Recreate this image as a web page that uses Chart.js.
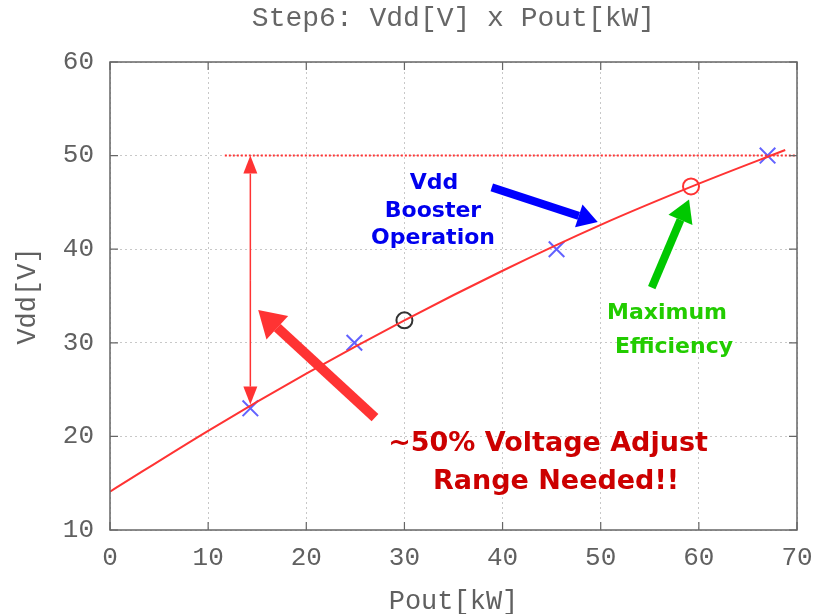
<!DOCTYPE html>
<html>
<head>
<meta charset="utf-8">
<script src="https://cdn.jsdelivr.net/npm/chart.js@4.4.1/dist/chart.umd.min.js"></script>
<style>
    html, body { margin: 0; padding: 0; background: #ffffff; }
    #wrap { width: 818px; height: 614px; }
</style>
</head>
<body>
<div id="wrap"><canvas id="vddChart" width="818" height="614"></canvas></div>
<script>
// measured operating points (Pout kW, Vdd V)
const measuredPout = [14.3, 24.9, 45.5, 67.0];
const measuredVdd = [23.0, 30.0, 40.0, 50.0];

// fitted Vdd curve
const fitPout = [0, 10, 20, 30, 40, 50, 60, 68.8];
const fitVdd = [14.1, 20.6, 26.7, 32.4, 37.7, 42.6, 47.0, 50.6];

// highlighted points
const nominalPoint = { x: 30, y: 32.4 };
const maxEffPoint = { x: 59.2, y: 46.7 };

// 50 V ceiling (dotted)
const ceilingPout = [11.7, 70];
const ceilingVdd = [50, 50];

const xTicks = [0, 10, 20, 30, 40, 50, 60, 70];
const yTicks = [10, 20, 30, 40, 50, 60];

const chartTitle = 'Step6: Vdd[V] x Pout[kW]';

function toPoints(xs, ys) {
    return xs.map(function (x, i) { return { x: x, y: ys[i] }; });
}

function drawArrow(ctx, x1, y1, x2, y2, width, headLen, headWidth, color) {
    const ang = Math.atan2(y2 - y1, x2 - x1);
    const bx = x2 - Math.cos(ang) * headLen;
    const by = y2 - Math.sin(ang) * headLen;
    ctx.save();
    ctx.strokeStyle = color;
    ctx.fillStyle = color;
    ctx.lineWidth = width;
    ctx.lineCap = 'butt';
    ctx.beginPath();
    ctx.moveTo(x1, y1);
    ctx.lineTo(bx, by);
    ctx.stroke();
    ctx.beginPath();
    ctx.moveTo(x2, y2);
    ctx.lineTo(bx + Math.sin(ang) * headWidth, by - Math.cos(ang) * headWidth);
    ctx.lineTo(bx - Math.sin(ang) * headWidth, by + Math.cos(ang) * headWidth);
    ctx.closePath();
    ctx.fill();
    ctx.restore();
}

const monoFamily = '"Liberation Mono", "DejaVu Sans Mono", monospace';

const annotations = {
    id: 'annotations',
    afterDatasetsDraw: function (chart) {
        const ctx = chart.ctx;
        const xs = chart.scales.x;
        const ys = chart.scales.y;
        const area = chart.chartArea;

        // title, centred over the plot area
        ctx.save();
        ctx.font = '28px ' + monoFamily;
        ctx.fillStyle = '#666666';
        ctx.textAlign = 'center';
        ctx.textBaseline = 'middle';
        ctx.fillText(chartTitle, (area.left + area.right) / 2, 19);
        ctx.restore();

        // frame and inward tick marks
        ctx.save();
        ctx.strokeStyle = '#666';
        ctx.lineWidth = 1.5;
        ctx.strokeRect(area.left, area.top, area.right - area.left, area.bottom - area.top);
        ctx.lineWidth = 1.2;
        xTicks.forEach(function (v) {
            const px = xs.getPixelForValue(v);
            ctx.beginPath();
            ctx.moveTo(px, area.bottom); ctx.lineTo(px, area.bottom - 8);
            ctx.moveTo(px, area.top); ctx.lineTo(px, area.top + 8);
            ctx.stroke();
        });
        yTicks.forEach(function (v) {
            const py = ys.getPixelForValue(v);
            ctx.beginPath();
            ctx.moveTo(area.left, py); ctx.lineTo(area.left + 8, py);
            ctx.moveTo(area.right, py); ctx.lineTo(area.right - 8, py);
            ctx.stroke();
        });
        ctx.restore();

        // vertical double arrow: adjust range
        const ax = xs.getPixelForValue(14.3);
        const aTop = ys.getPixelForValue(50);
        const aBot = ys.getPixelForValue(23.4);
        const aMid = (aTop + aBot) / 2;
        drawArrow(ctx, ax, aMid, ax, aTop, 1.5, 18, 7, '#ff3333');
        drawArrow(ctx, ax, aMid, ax, aBot, 1.5, 18, 7, '#ff3333');

        // thick pointer arrows
        drawArrow(ctx, xs.getPixelForValue(27.0), ys.getPixelForValue(22.0),
            xs.getPixelForValue(15.1), ys.getPixelForValue(33.5), 10, 26, 16, '#ff3333');
        drawArrow(ctx, xs.getPixelForValue(38.9), ys.getPixelForValue(46.6),
            xs.getPixelForValue(49.7), ys.getPixelForValue(42.9), 8, 20, 12, '#0000ff');
        drawArrow(ctx, xs.getPixelForValue(55.2), ys.getPixelForValue(35.9),
            xs.getPixelForValue(59.0), ys.getPixelForValue(45.3), 8, 22, 13, '#00c800');

        // callout text
        ctx.save();
        ctx.textAlign = 'center';
        ctx.textBaseline = 'middle';
        ctx.font = 'bold 22px "DejaVu Sans"';
        ctx.fillStyle = '#0000ee';
        ctx.fillText('Vdd', 434, 183);
        ctx.fillText('Booster', 433, 211);
        ctx.fillText('Operation', 433, 238);

        ctx.fillStyle = '#22cc00';
        ctx.fillText('Maximum', 667, 313);
        ctx.fillText('Efficiency', 674, 347);

        ctx.font = 'bold 27px "DejaVu Sans"';
        ctx.fillStyle = '#cc0000';
        ctx.fillText('~50% Voltage Adjust', 548, 444);
        ctx.fillText('Range Needed!!', 556, 482);
        ctx.restore();
    }
};

const tickFont = { family: monoFamily, size: 26 };
const labelFont = { family: monoFamily, size: 27 };

new Chart(document.getElementById('vddChart'), {
    type: 'line',
    data: {
        datasets: [
            {
                label: 'fit',
                data: toPoints(fitPout, fitVdd),
                borderColor: '#ff3333',
                borderWidth: 2,
                pointRadius: 0,
                tension: 0.4,
                cubicInterpolationMode: 'monotone',
                fill: false
            },
            {
                label: 'ceiling',
                data: toPoints(ceilingPout, ceilingVdd),
                borderColor: '#ff3333',
                borderWidth: 2,
                borderDash: [2, 2],
                pointRadius: 0,
                fill: false
            },
            {
                label: 'measured',
                data: toPoints(measuredPout, measuredVdd),
                showLine: false,
                pointStyle: 'crossRot',
                pointRadius: 11,
                pointBorderWidth: 2,
                pointBorderColor: 'rgba(70,70,255,0.85)',
                pointBackgroundColor: 'transparent'
            },
            {
                label: 'nominal',
                data: [nominalPoint],
                showLine: false,
                pointStyle: 'circle',
                pointRadius: 8,
                pointBorderWidth: 2,
                pointBorderColor: '#333333',
                pointBackgroundColor: 'transparent'
            },
            {
                label: 'max efficiency',
                data: [maxEffPoint],
                showLine: false,
                pointStyle: 'circle',
                pointRadius: 8,
                pointBorderWidth: 2,
                pointBorderColor: '#ff3333',
                pointBackgroundColor: 'transparent'
            }
        ]
    },
    options: {
        responsive: false,
        animation: false,
        layout: { padding: { left: 0, right: 21, top: 62, bottom: 0 } },
        plugins: {
            legend: { display: false },
            tooltip: { enabled: false },
            title: { display: false }
        },
        scales: {
            x: {
                type: 'linear',
                min: 0,
                max: 70,
                afterFit: function (scale) {
                    scale.height = 84;
                    scale.paddingLeft = 0;
                    scale.paddingRight = 0;
                },
                afterBuildTicks: function (scale) {
                    scale.ticks = xTicks.map(function (v) { return { value: v }; });
                },
                grid: { color: '#c8c8c8', drawTicks: false },
                border: { display: false, dash: [2, 3] },
                ticks: { color: '#606060', font: tickFont, padding: 13 },
                title: {
                    display: true,
                    text: 'Pout[kW]',
                    color: '#606060',
                    font: labelFont,
                    padding: { top: 0, bottom: -4 }
                }
            },
            y: {
                type: 'linear',
                min: 10,
                max: 60,
                afterFit: function (scale) {
                    scale.width = 110;
                    scale.paddingTop = 0;
                    scale.paddingBottom = 0;
                },
                afterBuildTicks: function (scale) {
                    scale.ticks = yTicks.map(function (v) { return { value: v }; });
                },
                grid: { color: '#c8c8c8', drawTicks: false },
                border: { display: false, dash: [2, 3] },
                ticks: { color: '#606060', font: tickFont, padding: 16 },
                title: {
                    display: true,
                    text: 'Vdd[V]',
                    color: '#606060',
                    font: labelFont,
                    padding: { top: 12, bottom: 0 }
                }
            }
        }
    },
    plugins: [annotations]
});
</script>
</body>
</html>
